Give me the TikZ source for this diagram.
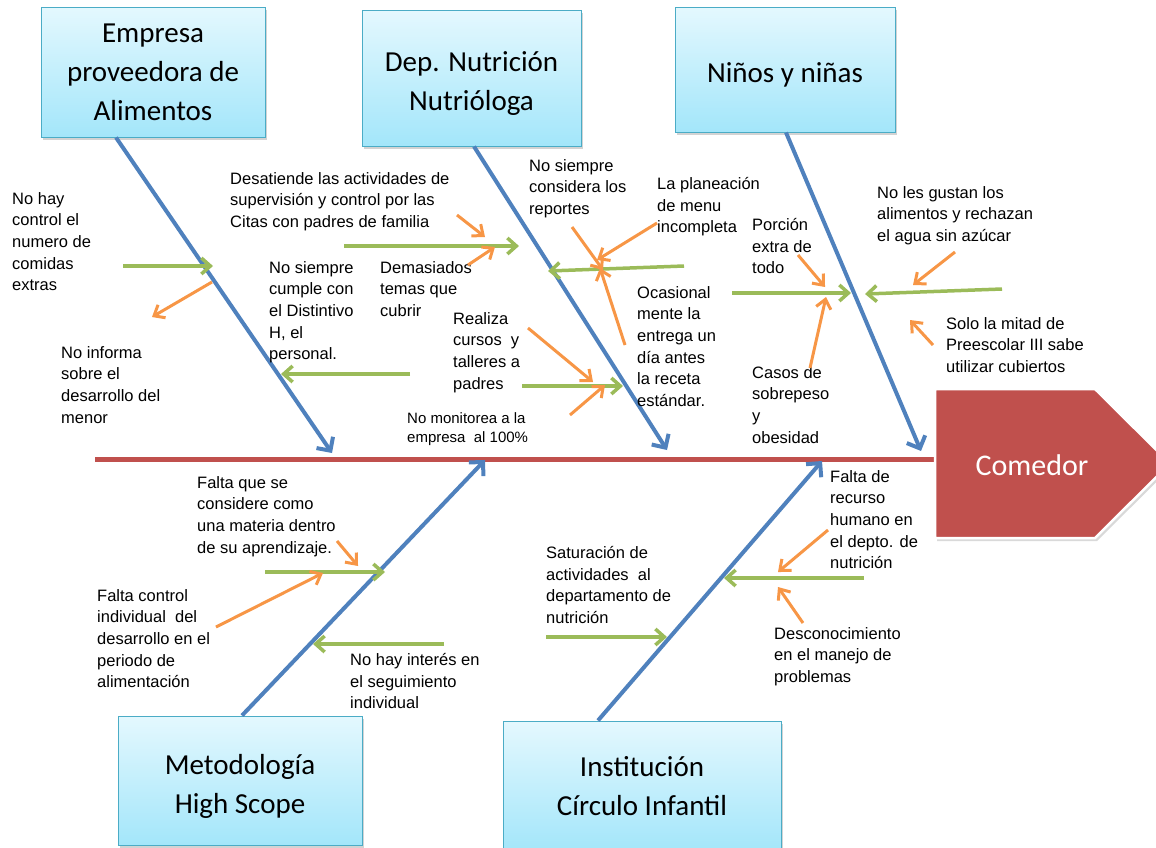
\documentclass[tikz,border=0pt]{standalone}
\usepackage{fontspec}
\setmainfont{Liberation Sans}
\newfontfamily\boxfont{Carlito}
\usetikzlibrary{arrows.meta,shadows}

\definecolor{bonecol}{HTML}{4F81BD}
\definecolor{causecol}{HTML}{9BBB59}
\definecolor{subcol}{HTML}{F79646}
\definecolor{spinecol}{HTML}{C0504D}
\definecolor{boxtop}{HTML}{E4F8FE}
\definecolor{boxbot}{HTML}{A3E6FA}
\definecolor{boxline}{HTML}{4BACC6}

\tikzset{
  catbox/.style={draw=boxline, line width=1pt, top color=boxtop, bottom color=boxbot,
    drop shadow={shadow xshift=2pt, shadow yshift=-3pt, opacity=0.35},
    font=\boxfont\fontsize{29}{39}\selectfont, align=center, inner sep=0pt},
  lbl/.style={font=\fontsize{16.5}{21.7}\selectfont, align=left, anchor=north west, inner sep=0pt},
  bone/.style={bonecol, line width=4pt, -{Straight Barb[length=10pt,width=20pt]}},
  cause/.style={causecol, line width=3.5pt, -{Straight Barb[length=9pt,width=16pt]}},
  sub/.style={subcol, line width=3pt, -{Straight Barb[length=9pt,width=15pt]}},
  headshape/.style={fill=spinecol, draw=white, line width=2.5pt,
    drop shadow={shadow xshift=2pt, shadow yshift=-3pt, opacity=0.3}},
}

\begin{document}
\begin{tikzpicture}[x=1pt, y=-1pt]

    \useasboundingbox (0,0) rectangle (1156,847);

    % Spine of the diagram
    \coordinate (spL) at (95,459);
    \coordinate (spR) at (935,459);
    \draw[spinecol, line width=5pt] (spL) -- (spR);

    % Category boxes
    \node[catbox, minimum width=224pt, minimum height=130pt] (emp) at (153,72)
        {Empresa\\proveedora de\\Alimentos};
    \node[catbox, minimum width=219pt, minimum height=136pt] (dep) at (471.5,78)
        {\rule{0pt}{31pt}Dep. Nutrición\\Nutrióloga};
    \node[catbox, minimum width=220pt, minimum height=125pt] (nin) at (785,69.5)
        {\rule{0pt}{31pt}Niños y niñas};
    \node[catbox, minimum width=244pt, minimum height=129pt] (met) at (240,780.5)
        {\rule{0pt}{31pt}Metodología\\High Scope};
    \node[catbox, minimum width=278pt, minimum height=130pt] (ins) at (642,786)
        {Institución\\Círculo Infantil};

    % Points where the bones meet the spine
    \coordinate (s1) at (332,453);
    \coordinate (s2) at (667,450);
    \coordinate (s3) at (921,451);
    \coordinate (s4) at (485,460);
    \coordinate (s5) at (822,461);

    % Draw the bones
    \draw[bone] ([xshift=-37pt]emp.south) -- (s1);
    \draw[bone] ([xshift=2.5pt]dep.south) -- (s2);
    \draw[bone] ([xshift=1pt]nin.south) -- (s3);
    \draw[bone] ([xshift=2pt]met.north) -- (s4);
    \draw[bone] ([xshift=-44pt]ins.north) -- (s5);

    % Labels of the causes
    \node[lbl] (empA) at (12,192) {No hay\\control el\\numero de\\comidas\\extras};
    \node[lbl] (empB) at (61,346) {No informa\\sobre el\\desarrollo del\\menor};
    \node[lbl] (empC) at (269,261) {No siempre\\cumple con\\el Distintivo\\H, el\\personal.};
    \node[lbl, font=\fontsize{15}{19}\selectfont] (empD) at (407,412) {No monitorea a la\\empresa\ \ al 100\%};
    \node[lbl] (depA) at (230,172) {Desatiende las actividades de\\supervisión y control por las\\Citas con padres de familia};
    \node[lbl] (depB) at (380,261) {Demasiados\\temas que\\cubrir};
    \node[lbl] (depC) at (453,312) {Realiza\\cursos\ \ y\\talleres a\\padres};
    \node[lbl] (depD) at (529,159) {No siempre\\considera los\\reportes};
    \node[lbl] (depE) at (657,177) {La planeación\\de menu\\incompleta};
    \node[lbl] (depF) at (637,286) {Ocasional\\mente la\\entrega un\\día antes\\la receta\\estándar.};
    \node[lbl] (ninA) at (752,218) {Porción\\extra de\\todo};
    \node[lbl] (ninB) at (752,366) {Casos de\\sobrepeso\\y\\obesidad};
    \node[lbl] (ninC) at (877,186) {No les gustan los\\alimentos y rechazan\\el agua sin azúcar};
    \node[lbl] (ninD) at (946,317) {Solo la mitad de\\Preescolar III sabe\\utilizar cubiertos};
    \node[lbl] (metA) at (197,476) {Falta que se\\considere como\\una materia dentro\\de su aprendizaje.};
    \node[lbl] (metB) at (97,589) {Falta control\\individual\ \ del\\desarrollo en el\\periodo de\\alimentación};
    \node[lbl] (metC) at (350,653) {No hay interés en\\el seguimiento\\individual};
    \node[lbl] (insA) at (546,546) {Saturación de\\actividades\ \ al\\departamento de\\nutrición};
    \node[lbl] (insB) at (830,470) {Falta de\\recurso\\humano en\\el depto. de\\nutrición};
    \node[lbl] (insC) at (774,627) {Desconocimiento\\en el manejo de\\problemas};

    % Ends of the green cause arrows
    \coordinate (c1a) at (123,266);  \coordinate (c1b) at (213,266);
    \coordinate (c2a) at (410,374);  \coordinate (c2b) at (281,374);
    \coordinate (c3a) at (344,246);  \coordinate (c3b) at (519,246);
    \coordinate (c4a) at (684,266);  \coordinate (c4b) at (548,271);
    \coordinate (c5a) at (522,386);  \coordinate (c5b) at (623,386);
    \coordinate (c6a) at (732,293);  \coordinate (c6b) at (851,293);
    \coordinate (c7a) at (1002,289); \coordinate (c7b) at (865,294);
    \coordinate (c8a) at (265,572);  \coordinate (c8b) at (385,572);
    \coordinate (c9a) at (444,644);  \coordinate (c9b) at (313,644);
    \coordinate (c10a) at (546,637); \coordinate (c10b) at (667,637);
    \coordinate (c11a) at (864,578); \coordinate (c11b) at (724,578);

    % Draw the green cause arrows
    \draw[cause] (c1a) -- (c1b);
    \draw[cause] (c2a) -- (c2b);
    \draw[cause] (c3a) -- (c3b);
    \draw[cause] (c4a) -- (c4b);
    \draw[cause] (c5a) -- (c5b);
    \draw[cause] (c6a) -- (c6b);
    \draw[cause] (c7a) -- (c7b);
    \draw[cause] (c8a) -- (c8b);
    \draw[cause] (c9a) -- (c9b);
    \draw[cause] (c10a) -- (c10b);
    \draw[cause] (c11a) -- (c11b);

    % Ends of the orange sub-cause arrows
    \coordinate (o1a) at (212,282);  \coordinate (o1b) at (152,317);
    \coordinate (o2a) at (457,215);  \coordinate (o2b) at (485,237);
    \coordinate (o3a) at (468,265);  \coordinate (o3b) at (495,247);
    \coordinate (o4a) at (572,227);  \coordinate (o4b) at (603,270);
    \coordinate (o5a) at (657,223);  \coordinate (o5b) at (597,260);
    \coordinate (o6a) at (625,345);  \coordinate (o6b) at (600,268);
    \coordinate (o7a) at (528,328);  \coordinate (o7b) at (593,382);
    \coordinate (o8a) at (570,415);  \coordinate (o8b) at (605,385);
    \coordinate (o9a) at (798,255);  \coordinate (o9b) at (825,287);
    \coordinate (o10a) at (810,368); \coordinate (o10b) at (826,297);
    \coordinate (o11a) at (955,252); \coordinate (o11b) at (913,285);
    \coordinate (o12a) at (933,345); \coordinate (o12b) at (910,320);
    \coordinate (o13a) at (337,541); \coordinate (o13b) at (358,566);
    \coordinate (o14a) at (216,627); \coordinate (o14b) at (323,573);
    \coordinate (o15a) at (828,530); \coordinate (o15b) at (778,572);
    \coordinate (o16a) at (803,623); \coordinate (o16b) at (778,587);

    % Draw the orange sub-cause arrows
    \draw[sub] (o1a) -- (o1b);
    \draw[sub] (o2a) -- (o2b);
    \draw[sub] (o3a) -- (o3b);
    \draw[sub] (o4a) -- (o4b);
    \draw[sub] (o5a) -- (o5b);
    \draw[sub] (o6a) -- (o6b);
    \draw[sub] (o7a) -- (o7b);
    \draw[sub] (o8a) -- (o8b);
    \draw[sub] (o9a) -- (o9b);
    \draw[sub] (o10a) -- (o10b);
    \draw[sub] (o11a) -- (o11b);
    \draw[sub] (o12a) -- (o12b);
    \draw[sub] (o13a) -- (o13b);
    \draw[sub] (o14a) -- (o14b);
    \draw[sub] (o15a) -- (o15b);
    \draw[sub] (o16a) -- (o16b);

    % Head of the fish
    \draw[headshape] (935,389) -- (1095,389) -- (1170,463.5) -- (1095,538) -- (935,538) -- cycle;
    \node[font=\boxfont\fontsize{30}{36}\selectfont, text=white] (comedor) at (1032,465) {Comedor};

\end{tikzpicture}
\end{document}
